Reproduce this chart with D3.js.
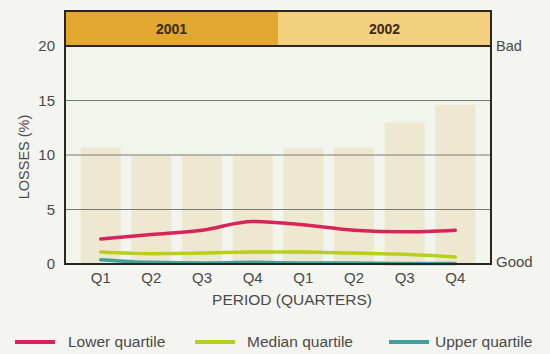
<!DOCTYPE html>
<html>
<head>
<meta charset="utf-8">
<script src="https://cdn.jsdelivr.net/npm/d3@7"></script>
<style>
  html, body { margin: 0; padding: 0; background: #f4f4f1; }
  svg { display: block; font-family: "Liberation Sans", Arial, Helvetica, sans-serif; }
</style>
</head>
<body>
<svg id="chart" width="550" height="354"></svg>
<script>
// Quarterly losses, two years
const years = ["2001", "2002"];
const quarters = ["Q1", "Q2", "Q3", "Q4", "Q1", "Q2", "Q3", "Q4"];
const periodKeys = quarters.map((q, i) => years[Math.floor(i / 4)] + "-" + q);

// Background bars (overall losses %)
const totalLosses = [10.7, 10.0, 10.0, 10.0, 10.6, 10.7, 13.0, 14.6];
// Quartile series (%)
const lowerQuartile = [2.3, 2.7, 3.1, 3.9, 3.6, 3.1, 2.95, 3.1];
const medianQuartile = [1.1, 0.95, 1.0, 1.1, 1.1, 1.0, 0.9, 0.65];
const upperQuartile = [0.4, 0.15, 0.1, 0.15, 0.1, 0.1, 0.05, 0.05];

const yTicks = [0, 5, 10, 15, 20];
const seriesNames = ["Lower quartile", "Median quartile", "Upper quartile"];
const seriesColors = ["#d8245a", "#b9cf1c", "#3f9f9c"];

const svg = d3.select("#chart");
const plotLeft = 65, plotRight = 491, plotTop = 46, plotBottom = 264, headTop = 11;
const textColor = "#4a4a46";

const x = d3.scaleBand().domain(periodKeys).range([plotLeft, plotRight])
  .paddingInner(0.21).paddingOuter(0.31);
const y = d3.scaleLinear().domain([0, 20]).range([plotBottom, plotTop]);

// plot background
svg.append("rect").attr("x", plotLeft).attr("y", plotTop).attr("width", plotRight - plotLeft)
  .attr("height", plotBottom - plotTop).attr("fill", "#f2f5ed");

// year header bands
const mid = (x(periodKeys[3]) + x.bandwidth() + x(periodKeys[4])) / 2;
const headColors = ["#e3a62f", "#f4cf7e"];
years.forEach((yr, i) => {
  const x0 = i === 0 ? plotLeft : mid, x1 = i === 0 ? mid : plotRight;
  svg.append("rect").attr("x", x0).attr("y", headTop).attr("width", x1 - x0)
    .attr("height", plotTop - headTop).attr("fill", headColors[i]);
  svg.append("text").attr("x", (x0 + x1) / 2).attr("y", (headTop + plotTop) / 2 + 5)
    .attr("text-anchor", "middle").attr("font-size", 14).attr("font-weight", "bold")
    .attr("fill", "#3b2a12").text(yr);
});

// background bars
svg.append("g").selectAll("rect").data(totalLosses).join("rect")
  .attr("x", (d, i) => x(periodKeys[i]))
  .attr("width", x.bandwidth())
  .attr("y", d => y(d))
  .attr("height", d => plotBottom - y(d))
  .attr("fill", "#ecdfbd").attr("opacity", 0.6);

// gridlines
svg.append("g").selectAll("line").data(yTicks.filter(t => t > 0 && t < 20)).join("line")
  .attr("x1", plotLeft).attr("x2", plotRight)
  .attr("y1", d => y(d)).attr("y2", d => y(d))
  .attr("stroke", "#7a7a72").attr("stroke-width", 1);

// quartile lines
const line = d3.line()
  .x((d, i) => x(periodKeys[i]) + x.bandwidth() / 2)
  .y(d => y(d))
  .curve(d3.curveMonotoneX);
[upperQuartile, medianQuartile, lowerQuartile].forEach((s, k) => {
  const ci = 2 - k;
  svg.append("path").attr("d", line(s)).attr("fill", "none")
    .attr("stroke", seriesColors[ci]).attr("stroke-width", 3.5)
    .attr("stroke-linecap", "round").attr("stroke-linejoin", "round");
});

// frame
svg.append("rect").attr("x", plotLeft).attr("y", headTop).attr("width", plotRight - plotLeft)
  .attr("height", plotBottom - headTop).attr("fill", "none")
  .attr("stroke", "#2a2620").attr("stroke-width", 2);
svg.append("line").attr("x1", plotLeft).attr("x2", plotRight).attr("y1", plotTop).attr("y2", plotTop)
  .attr("stroke", "#2a2620").attr("stroke-width", 2);

// y axis
const yAxis = d3.axisLeft(y).tickValues(yTicks).tickSize(0).tickPadding(10);
const yg = svg.append("g").attr("transform", `translate(${plotLeft},0)`).call(yAxis);
yg.select(".domain").remove();
yg.selectAll("text").attr("font-size", 15).attr("fill", textColor)
  .style("font-family", "'Liberation Sans', Arial, sans-serif");

// x axis
const xAxis = d3.axisBottom(x).tickFormat((d, i) => quarters[i]).tickSize(0).tickPadding(8);
const xg = svg.append("g").attr("transform", `translate(0,${plotBottom})`).call(xAxis);
xg.select(".domain").remove();
xg.selectAll("text").attr("font-size", 15).attr("fill", textColor)
  .style("font-family", "'Liberation Sans', Arial, sans-serif");

// axis titles
svg.append("text").attr("transform", `translate(29,${(plotTop + plotBottom) / 2 + 2}) rotate(-90)`)
  .attr("text-anchor", "middle").attr("font-size", 14.5).attr("fill", textColor)
  .text("LOSSES (%)");
svg.append("text").attr("x", 292).attr("y", 305)
  .attr("text-anchor", "middle").attr("font-size", 15.5).attr("fill", textColor)
  .text("PERIOD (QUARTERS)");

// side labels
svg.append("text").attr("x", 496).attr("y", y(20) + 5).attr("font-size", 14.5)
  .attr("fill", textColor).text("Bad");
svg.append("text").attr("x", 496).attr("y", y(0) + 3).attr("font-size", 15)
  .attr("fill", textColor).text("Good");

// legend
const legendX = [15, 195, 389];
const lg = svg.append("g").selectAll("g").data(seriesNames).join("g")
  .attr("transform", (d, i) => `translate(${legendX[i]},347)`);
lg.append("line").attr("x1", 0).attr("x2", 40).attr("y1", -5).attr("y2", -5)
  .attr("stroke", (d, i) => seriesColors[i]).attr("stroke-width", 4);
lg.append("text").attr("x", (d, i) => [53, 52, 46][i]).attr("y", 0)
  .attr("font-size", 15.5).attr("fill", textColor).text(d => d);
</script>
</body>
</html>
